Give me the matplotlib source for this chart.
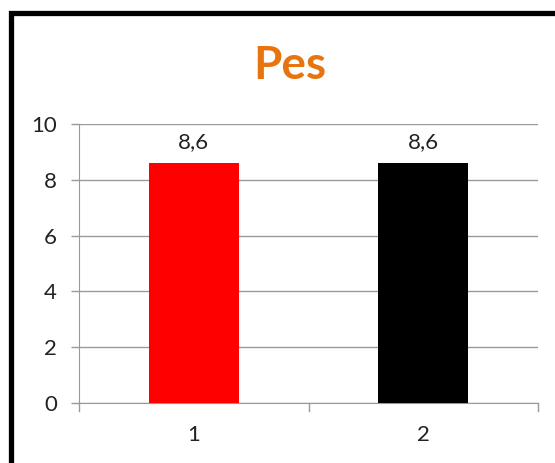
import matplotlib
matplotlib.use("Agg")
import matplotlib.pyplot as plt
from matplotlib.lines import Line2D

categories = ["1", "2"]
values = [8.6, 8.6]
labels = ["8,6", "8,6"]
colors = ["#FF0000", "#000000"]
yticks = [0, 2, 4, 6, 8, 10]

W, H = 555, 463
fig = plt.figure(figsize=(W / 100, H / 100), dpi=100)
plt.rcParams['font.family'] = ['Lato', 'DejaVu Sans']

ax = fig.add_axes([79 / W, 1 - 403 / H, (538 - 79) / W, (403 - 124) / H])
x = list(range(len(categories)))
ax.bar(x, values, width=0.39, color=colors, zorder=3)
ax.set_xlim(-0.5, len(categories) - 0.5)
ax.set_ylim(0, 10)
ax.set_yticks(yticks)
ax.set_yticklabels([str(v) for v in yticks], fontsize=16, color="#222222")
ax.set_xticks(x)
ax.set_xticklabels(categories, fontsize=16, color="#222222")
ax.tick_params(axis='x', length=0, pad=16)
ax.tick_params(axis='y', length=6, color="#999999", width=1, pad=10)
ax.grid(axis='y', color="#999999", linewidth=1, zorder=0)
for s in ['top', 'right']:
    ax.spines[s].set_visible(False)
ax.spines['left'].set_color("#999999")
ax.spines['bottom'].set_color("#999999")
# category boundary ticks on x axis
for b in [-0.5, 0.5, 1.5]:
    ax.plot([b, b], [0, -0.27], color="#999999", linewidth=1, clip_on=False, zorder=4)

for xi, v, lab in zip(x, values, labels):
    ax.text(xi, v + 0.4, lab, ha='center', va='bottom', fontsize=16, color="#222222")

fig.text(0.522, 1 - 66 / H, "Pes", ha='center', va='center', fontsize=33,
         fontweight='bold', color="#E8740F")

# outer frame (only left and top visible)
fig.add_artist(Line2D([10.5 / W, 10.5 / W, 1.05], [-0.05, 1 - 12.5 / H, 1 - 12.5 / H],
                      transform=fig.transFigure, color="black", linewidth=3.8,
                      solid_joinstyle='miter'))

fig.savefig("out.png", dpi=100)
